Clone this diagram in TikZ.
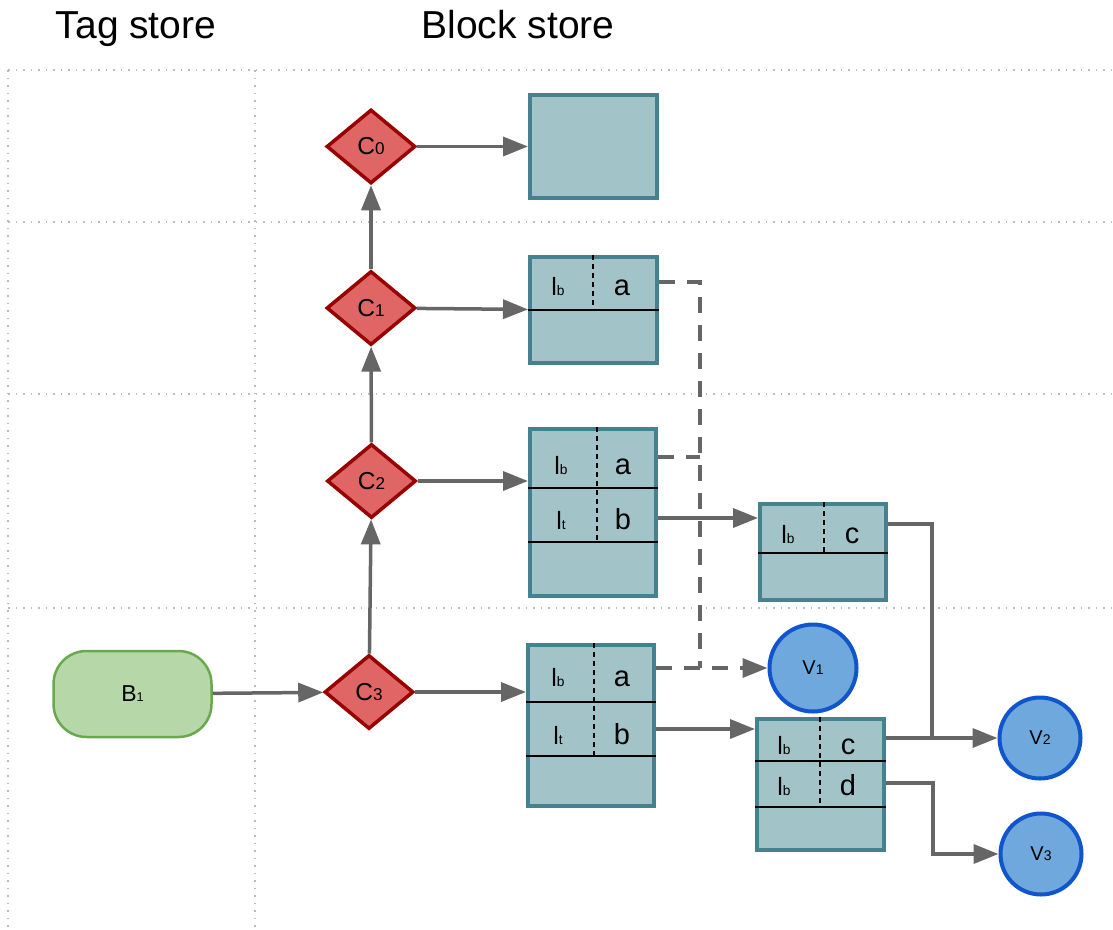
\documentclass[tikz,border=0pt]{standalone}
\usepackage{fontspec}
\setmainfont{Liberation Sans}
\usetikzlibrary{positioning, calc, shapes.geometric, arrows.meta}
\definecolor{tagfill}{HTML}{E06666}
\definecolor{tagline}{HTML}{990000}
\definecolor{boxfill}{HTML}{A2C4C9}
\definecolor{boxline}{HTML}{45818E}
\definecolor{valfill}{HTML}{6FA8DC}
\definecolor{valline}{HTML}{1155CC}
\definecolor{blkfill}{HTML}{B6D7A8}
\definecolor{blkline}{HTML}{6AA84F}
\definecolor{wiregray}{HTML}{666666}
\definecolor{gridgray}{HTML}{BBBBBB}
\makeatletter
% small subscript sitting on the baseline
\newcommand{\subs}[2][0.55]{{\dimen@=\f@size pt\dimen@=#1\dimen@\fontsize{\strip@pt\dimen@}{\strip@pt\dimen@}\selectfont #2}}
\makeatother

\begin{document}
\begin{tikzpicture}[x=1pt, y=-1pt,
		title/.style = {anchor=base, font=\fontsize{39}{42}\selectfont},
		tag/.style = {diamond, draw=tagline, fill=tagfill, line width=3.5pt, minimum width=89pt, minimum height=74pt, inner sep=0pt, font=\fontsize{24.5}{25}\selectfont},
		blk/.style = {rectangle, rounded corners=33pt, draw=blkline, fill=blkfill, line width=2.5pt, minimum width=158pt, minimum height=86pt, font=\fontsize{23}{23}\selectfont},
		box/.style = {rectangle, draw=boxline, fill=boxfill, line width=4pt, inner sep=0pt},
		val/.style = {circle, draw=valline, fill=valfill, line width=4pt, minimum size=81pt, inner sep=0pt, font=\fontsize{20}{20}\selectfont},
		lbl/.style = {anchor=base, inner sep=0pt, font=\fontsize{25}{25}\selectfont},
		ent/.style = {anchor=base, inner sep=0pt, font=\fontsize{29}{29}\selectfont},
		rowline/.style = {black, line width=1.8pt},
		divline/.style = {black, line width=1.5pt, dash pattern=on 5pt off 4pt},
		gridline/.style = {gridgray, line width=1.5pt, dash pattern=on 1.5pt off 6pt},
		wire/.style = {draw=wiregray, line width=3.5pt},
		ptr/.style = {wire, -{Triangle[length=25pt, width=19pt]}},
		ptrdash/.style = {dash pattern=on 16pt off 12pt},
	]
	\useasboundingbox (0,0) rectangle (1113,929);

	% grid
	\foreach \y in {70,222,394,608}
		\draw[gridline] (8,\y) -- (1113,\y);
	\foreach \x in {8,255}
		\draw[gridline] (\x,70) -- (\x,929);

	\node[title] (tagtitle) at (136,38) {Tag store};
	\node[title] (blocktitle) at (518,38) {Block store};

	% tag store
	\node[blk] (b1) at (132.5,694) {B\subs{1}};
	\node[tag] (c0) at (371,146.5) {C\subs[0.7]{0}};
	\node[tag] (c1) at (371,308) {C\subs[0.7]{1}};
	\node[tag] (c2) at (371.5,481) {C\subs[0.7]{2}};
	\node[tag] (c3) at (369,692) {C\subs[0.7]{3}};

	% blocks
	\node[box, minimum width=127pt, minimum height=103pt] (k0) at (593.5,146.5) {};
	\node[box, minimum width=127pt, minimum height=106pt] (k1) at (593.5,310) {};
	\node[box, minimum width=126pt, minimum height=167pt] (k2) at (593,512.5) {};
	\node[box, minimum width=126pt, minimum height=96pt] (k3) at (823,552) {};
	\node[box, minimum width=126pt, minimum height=161pt] (k4) at (591,725.5) {};
	\node[box, minimum width=127pt, minimum height=131pt] (k5) at (820.5,784.5) {};

	\draw[rowline] (k1.west |- 0,310) -- (k1.east |- 0,310);
	\draw[divline] (k1.north -| 593,0) -- (593,310);
	\node[lbl] (k1la) at (558,295) {l\subs{b}};
	\node[ent] (k1a) at (622,295) {a};

	\draw[rowline] (k2.west |- 0,488) -- (k2.east |- 0,488);
	\draw[rowline] (k2.west |- 0,542) -- (k2.east |- 0,542);
	\draw[divline] (k2.north -| 597,0) -- (597,542);
	\node[lbl] (k2la) at (561,474) {l\subs{b}};
	\node[ent] (k2a) at (623,474) {a};
	\node[lbl] (k2lb) at (561,529) {l\subs{t}};
	\node[ent] (k2b) at (623,529) {b};

	\draw[rowline] (k3.west |- 0,553) -- (k3.east |- 0,553);
	\draw[divline] (k3.north -| 824,0) -- (824,553);
	\node[lbl] (k3lc) at (788,543) {l\subs{b}};
	\node[ent] (k3c) at (852,543) {c};

	\draw[rowline] (k4.west |- 0,702) -- (k4.east |- 0,702);
	\draw[rowline] (k4.west |- 0,756) -- (k4.east |- 0,756);
	\draw[divline] (k4.north -| 594,0) -- (594,756);
	\node[lbl] (k4la) at (558,686) {l\subs{b}};
	\node[ent] (k4a) at (622,686) {a};
	\node[lbl] (k4lb) at (558,744) {l\subs{t}};
	\node[ent] (k4b) at (622,744) {b};

	\draw[rowline] (k5.west |- 0,761) -- (k5.east |- 0,761);
	\draw[rowline] (k5.west |- 0,807) -- (k5.east |- 0,807);
	\draw[divline] (k5.north -| 820,0) -- (820,807);
	\node[lbl] (k5lc) at (784,754) {l\subs{b}};
	\node[ent] (k5c) at (848,754) {c};
	\node[lbl] (k5ld) at (784,795) {l\subs{b}};
	\node[ent] (k5d) at (848,795) {d};

	% values
	\node[val, minimum size=87pt] (v1) at (813,668) {V\subs[0.7]{1}};
	\node[val] (v2) at (1040,738) {V\subs[0.7]{2}};
	\node[val] (v3) at (1041,854) {V\subs[0.7]{3}};

	\coordinate (jn) at (700,668);
	\coordinate (jv2) at (932,738);
	\coordinate (jv3) at (933,783);

	% tag chain
	\draw[ptr] (b1) -- (c3);
	\draw[ptr] (c3) -- (c2);
	\draw[ptr] (c2) -- (c1);
	\draw[ptr] (c1) -- (c0);
	\draw[ptr] (c0) -- (k0);
	\draw[ptr] (c1) -- (k1);
	\draw[ptr] (c2) -- (k2.west |- c2);
	\draw[ptr] (c3) -- (k4.west |- c3);

	% links between blocks
	\draw[wire, ptrdash] (k1.east |- 0,282) -| (jn);
	\draw[wire, ptrdash] (k2.east |- 0,457) -- (jn |- 0,457);
	\draw[ptr, ptrdash] (k4.east |- v1) -- (v1);
	\draw[ptr] (k2.east |- 0,518) -- (k3.west |- 0,518);
	\draw[ptr] (k4.east |- 0,729) -- (k5.west |- 0,729);
	\draw[wire] (k3.east |- 0,524) -| (jv2);
	\draw[ptr] (k5.east |- v2) -- (v2);
	\draw[ptr] (k5.east |- jv3) -- (jv3) |- (v3);
\end{tikzpicture}
\end{document}
